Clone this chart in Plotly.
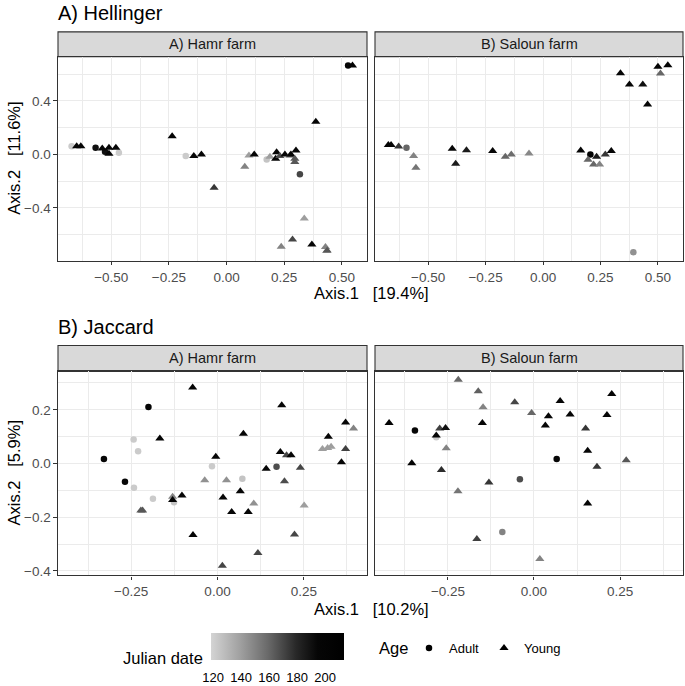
import plotly.graph_objects as go

# ---------------- data ----------------
# A) Hellinger, Hamr farm
hel_hamr_x = [-0.672, -0.650, -0.632, -0.568, -0.539, -0.510, -0.527, -0.510, -0.480, -0.467,
              -0.236, -0.177, -0.142, -0.109, -0.054, 0.079, 0.097, 0.120, 0.174, 0.188,
              0.213, 0.217, 0.231, 0.253, 0.275, 0.279, 0.301, 0.296, 0.296, 0.318,
              0.387, 0.337, 0.286, 0.237, 0.370, 0.429, 0.434, 0.436, 0.527, 0.546]
hel_hamr_y = [0.062, 0.062, 0.062, 0.050, 0.045, 0.050, 0.020, 0.005, 0.050, 0.012,
              0.137, -0.012, -0.012, 0.000, -0.249, -0.092, -0.007, 0.000, -0.037, -0.017,
              -0.032, 0.017, -0.012, 0.000, -0.007, 0.000, 0.030, -0.032, -0.057, -0.149,
              0.244, -0.480, -0.636, -0.690, -0.673, -0.693, -0.723, -0.718, 0.666, 0.666]
hel_hamr_age = ["Adult", "Young", "Young", "Adult", "Young", "Young", "Adult", "Young", "Young", "Adult",
                "Young", "Adult", "Young", "Young", "Young", "Young", "Young", "Young", "Adult", "Young",
                "Young", "Young", "Young", "Young", "Young", "Young", "Young", "Young", "Young", "Adult",
                "Young", "Young", "Young", "Young", "Young", "Young", "Young", "Young", "Adult", "Young"]
hel_hamr_date = [122, 195, 195, 190, 195, 195, 190, 195, 195, 122,
                 200, 122, 195, 195, 175, 150, 140, 195, 125, 140,
                 195, 195, 168, 195, 165, 195, 195, 165, 165, 170,
                 200, 140, 170, 150, 195, 150, 140, 165, 195, 200]

# A) Hellinger, Saloun farm
hel_saloun_x = [-0.673, -0.661, -0.628, -0.594, -0.563, -0.553, -0.395, -0.380, -0.333, -0.219,
                -0.164, -0.138, -0.061, 0.164, 0.206, 0.233, 0.196, 0.220, 0.246, 0.271,
                0.297, 0.337, 0.376, 0.434, 0.455, 0.500, 0.511, 0.543, 0.393]
hel_saloun_y = [0.070, 0.070, 0.060, 0.050, -0.012, -0.100, 0.042, -0.070, 0.032, 0.025,
                -0.017, 0.000, 0.007, 0.030, 0.000, -0.017, -0.040, -0.075, -0.075, 0.000,
                0.025, 0.608, 0.524, 0.524, 0.374, 0.656, 0.606, 0.668, -0.731]
hel_saloun_age = ["Young", "Young", "Young", "Adult", "Young", "Young", "Young", "Young", "Young", "Young",
                  "Young", "Young", "Young", "Young", "Adult", "Young", "Young", "Young", "Young", "Young",
                  "Young", "Young", "Young", "Young", "Young", "Young", "Young", "Young", "Adult"]
hel_saloun_date = [200, 200, 175, 160, 150, 155, 195, 185, 185, 195,
                   160, 158, 148, 195, 200, 185, 160, 160, 150, 175,
                   195, 195, 195, 190, 195, 200, 160, 200, 145]

# B) Jaccard, Hamr farm
jac_hamr_x = [-0.072, -0.200, 0.186, -0.243, -0.230, -0.167, -0.329, 0.075, 0.371, 0.394,
              0.321, 0.304, 0.319, 0.329, 0.371, 0.182, 0.200, 0.213, -0.005, 0.359,
              -0.016, -0.268, 0.141, 0.171, 0.240, -0.242, -0.037, 0.026, 0.072, 0.194,
              0.066, -0.187, -0.130, -0.130, -0.126, -0.103, 0.016, 0.105, -0.222, -0.217,
              0.041, 0.089, 0.251, -0.071, 0.223, 0.117, 0.014]
jac_hamr_y = [0.283, 0.210, 0.217, 0.089, 0.046, 0.093, 0.017, 0.111, 0.153, 0.130,
              0.100, 0.054, 0.058, 0.062, 0.054, 0.043, 0.031, 0.031, 0.025, 0.005,
              -0.010, -0.068, -0.020, -0.012, -0.016, -0.090, -0.062, -0.062, -0.057, -0.066,
              -0.103, -0.131, -0.124, -0.136, -0.144, -0.119, -0.127, -0.149, -0.175, -0.175,
              -0.181, -0.181, -0.156, -0.266, -0.264, -0.333, -0.381]
jac_hamr_age = ["Young", "Adult", "Young", "Adult", "Adult", "Young", "Adult", "Young", "Young", "Young",
                "Young", "Young", "Young", "Young", "Young", "Young", "Young", "Young", "Young", "Young",
                "Adult", "Adult", "Young", "Adult", "Young", "Adult", "Young", "Young", "Adult", "Young",
                "Young", "Adult", "Young", "Young", "Adult", "Young", "Young", "Young", "Young", "Young",
                "Young", "Young", "Young", "Young", "Young", "Young", "Young"]
jac_hamr_date = [200, 200, 195, 122, 122, 200, 195, 195, 195, 150,
                 195, 140, 140, 140, 172, 195, 170, 195, 195, 195,
                 122, 195, 195, 168, 170, 122, 145, 145, 125, 168,
                 195, 122, 150, 195, 125, 195, 195, 145, 165, 165,
                 195, 195, 140, 200, 170, 170, 170]

# B) Jaccard, Saloun farm
jac_saloun_x = [-0.421, -0.346, -0.220, -0.162, -0.148, -0.274, -0.257, -0.284, -0.284, -0.150,
                -0.255, -0.355, -0.269, -0.056, -0.007, 0.076, 0.042, 0.033, 0.105, 0.212,
                0.226, 0.150, 0.156, 0.066, 0.183, 0.268, -0.131, -0.041, -0.221, 0.156,
                -0.092, -0.166, 0.017]
jac_saloun_y = [0.151, 0.123, 0.312, 0.269, 0.209, 0.130, 0.132, 0.098, 0.104, 0.151,
                0.057, 0.001, -0.024, 0.228, 0.188, 0.233, 0.176, 0.141, 0.182, 0.181,
                0.259, 0.130, 0.047, 0.017, -0.012, 0.012, -0.071, -0.059, -0.103, -0.149,
                -0.255, -0.281, -0.356]
jac_saloun_age = ["Young", "Adult", "Young", "Young", "Young", "Young", "Young", "Adult", "Young", "Young",
                  "Young", "Young", "Young", "Young", "Young", "Young", "Young", "Young", "Young", "Young",
                  "Young", "Young", "Young", "Adult", "Young", "Young", "Young", "Adult", "Young", "Young",
                  "Adult", "Young", "Young"]
jac_saloun_date = [200, 195, 160, 162, 150, 172, 190, 122, 195, 195,
                   150, 200, 178, 170, 160, 195, 195, 195, 195, 195,
                   200, 175, 195, 195, 175, 165, 175, 168, 155, 195,
                   150, 172, 150]

section_titles = ["A) Hellinger", "B) Jaccard"]
farm_labels = ["A) Hamr farm", "B) Saloun farm"]
x_titles = ["Axis.1\u00a0\u00a0\u00a0[19.4%]", "Axis.1\u00a0\u00a0\u00a0[10.2%]"]
y_titles = ["Axis.2\u00a0\u00a0\u00a0[11.6%]", "Axis.2\u00a0\u00a0\u00a0[5.9%]"]
colorbar_ticks = [120, 140, 160, 180, 200]
age_levels = ["Adult", "Young"]

# ---------------- styling ----------------
FONT = "Liberation Sans, Arial, Helvetica, sans-serif"
W, H = 685, 686
symbols = {"Adult": "circle", "Young": "triangle-up"}
sizes = {"Adult": 6.5, "Young": 8}
CMIN, CMAX = 118.5, 213.5

def px_x(p):
    return p / W

def px_y(p):
    return 1 - p / H

panels = [
    (hel_hamr_x, hel_hamr_y, hel_hamr_age, hel_hamr_date),
    (hel_saloun_x, hel_saloun_y, hel_saloun_age, hel_saloun_date),
    (jac_hamr_x, jac_hamr_y, jac_hamr_age, jac_hamr_date),
    (jac_saloun_x, jac_saloun_y, jac_saloun_age, jac_saloun_date),
]

col_dom = [(px_x(58), px_x(367)), (px_x(375), px_x(683))]
row_px = [(57, 262), (373, 578)]
row_dom = [(px_y(b), px_y(t)) for t, b in row_px]
strip_px = [(32, 57), (347, 373)]

row_xrange = [[-0.731, 0.609], [-0.462, 0.433]]
row_yrange = [[-0.796, 0.731], [-0.417, 0.343]]
row_xd = [(0.25, 0.125), (0.25, 0.125)]
row_yd = [(0.4, 0.2), (0.2, 0.1)]

fig = go.Figure()

for i, (xs, ys, ages, dates) in enumerate(panels):
    r, c = divmod(i, 2)
    ax = "" if i == 0 else str(i + 1)
    for age in age_levels:
        idx = [k for k, a in enumerate(ages) if a == age]
        fig.add_trace(go.Scatter(
            x=[xs[k] for k in idx], y=[ys[k] for k in idx],
            mode="markers", showlegend=False,
            xaxis="x" + ax, yaxis="y" + ax,
            marker=dict(symbol=symbols[age], size=sizes[age],
                        color=[dates[k] for k in idx], coloraxis="coloraxis",
                        line=dict(width=0)),
            hoverinfo="skip",
        ))
    grid = "#EBEBEB"
    fig.layout["xaxis" + ax] = dict(
        domain=col_dom[c], range=row_xrange[r], anchor="y" + ax,
        tickmode="linear", tick0=0, dtick=row_xd[r][0], tickformat=".2f",
        showgrid=True, gridcolor=grid, gridwidth=1.1, zeroline=False,
        minor=dict(tick0=0, dtick=row_xd[r][1], showgrid=True, gridcolor=grid, gridwidth=0.55),
        ticks="outside", ticklen=3.5, tickwidth=1.1, tickcolor="#333333",
        showline=True, linecolor="#333333", linewidth=1.1, mirror=True,
        tickfont=dict(family=FONT, size=13.5, color="#4D4D4D"),
    )
    fig.layout["yaxis" + ax] = dict(
        domain=row_dom[r], range=row_yrange[r], anchor="x" + ax,
        tickmode="linear", tick0=0, dtick=row_yd[r][0], tickformat=".1f",
        showgrid=True, gridcolor=grid, gridwidth=1.1, zeroline=False,
        minor=dict(tick0=0, dtick=row_yd[r][1], showgrid=True, gridcolor=grid, gridwidth=0.55),
        ticks="outside" if c == 0 else "", ticklen=3.5, tickwidth=1.1, tickcolor="#333333",
        showticklabels=(c == 0),
        showline=True, linecolor="#333333", linewidth=1.1, mirror=True,
        tickfont=dict(family=FONT, size=13.5, color="#4D4D4D"),
    )

shapes = []
annotations = []
for r in range(2):
    st, sb = strip_px[r]
    for c in range(2):
        shapes.append(dict(type="rect", xref="paper", yref="paper",
                           x0=col_dom[c][0], x1=col_dom[c][1], y0=px_y(sb), y1=px_y(st),
                           fillcolor="#D9D9D9", line=dict(color="#333333", width=1.1), layer="below"))
        annotations.append(dict(text=farm_labels[c], xref="paper", yref="paper",
                                x=(col_dom[c][0] + col_dom[c][1]) / 2, y=px_y((st + sb) / 2),
                                xanchor="center", yanchor="middle", showarrow=False,
                                font=dict(family=FONT, size=14.5, color="#1A1A1A")))
    annotations.append(dict(text=section_titles[r], xref="paper", yref="paper",
                            x=px_x(56), y=px_y([13, 328][r]), xanchor="left", yanchor="middle",
                            showarrow=False, font=dict(family=FONT, size=20, color="black")))
    annotations.append(dict(text=x_titles[r], xref="paper", yref="paper",
                            x=px_x(371), y=px_y([294, 612][r]), xanchor="center", yanchor="middle",
                            showarrow=False, font=dict(family=FONT, size=16.5, color="black")))
    annotations.append(dict(text=y_titles[r], xref="paper", yref="paper",
                            x=px_x(14), y=(row_dom[r][0] + row_dom[r][1]) / 2, textangle=-90,
                            xanchor="center", yanchor="middle",
                            showarrow=False, font=dict(family=FONT, size=16.5, color="black")))

# legend titles
annotations.append(dict(text="Julian date", xref="paper", yref="paper",
                        x=px_x(205), y=px_y(661), xanchor="right", yanchor="middle",
                        showarrow=False, font=dict(family=FONT, size=16.5, color="black")))
annotations.append(dict(text="Age", xref="paper", yref="paper",
                        x=px_x(377), y=px_y(651), xanchor="left", yanchor="middle",
                        showarrow=False, font=dict(family=FONT, size=16.5, color="black")))

# colour bar geometry (pixels) and the white tick marks that ggplot draws inside the bar
CB_LEFT, CB_LEN, CB_TOP, CB_THICK = 211, 133, 636, 27
for v in colorbar_ticks:
    xp = CB_LEFT + (v - CMIN) / (CMAX - CMIN) * CB_LEN
    for y0, y1 in [(CB_TOP, CB_TOP + CB_THICK / 5), (CB_TOP + CB_THICK * 4 / 5, CB_TOP + CB_THICK)]:
        shapes.append(dict(type="line", xref="paper", yref="paper",
                           x0=px_x(xp), x1=px_x(xp), y0=px_y(y0), y1=px_y(y1),
                           line=dict(color="white", width=1), layer="above"))

for age in age_levels:
    fig.add_trace(go.Scatter(x=[None], y=[None], mode="markers", name=age,
                             marker=dict(symbol=symbols[age], size=sizes[age], color="black"),
                             showlegend=True, xaxis="x", yaxis="y"))

fig.update_layout(
    width=W, height=H,
    margin=dict(l=0, r=0, t=0, b=0),
    paper_bgcolor="white", plot_bgcolor="white",
    font=dict(family=FONT, color="black"),
    shapes=shapes, annotations=annotations,
    coloraxis=dict(
        cmin=CMIN, cmax=CMAX,
        colorscale=[[0.0, "rgb(212,212,212)"], [0.22, "rgb(160,160,160)"], [0.43, "rgb(105,105,105)"],
                    [0.64, "rgb(40,40,40)"], [0.80, "rgb(6,6,6)"], [1.0, "rgb(0,0,0)"]],
        colorbar=dict(orientation="h", x=px_x(CB_LEFT + CB_LEN / 2), xanchor="center",
                      y=px_y(CB_TOP), yanchor="top",
                      len=CB_LEN, lenmode="pixels", thickness=CB_THICK, thicknessmode="pixels",
                      outlinewidth=0, tickmode="array", tickvals=colorbar_ticks,
                      ticks="outside", ticklen=7, tickcolor="white", tickwidth=1,
                      tickfont=dict(family=FONT, size=13, color="black"),
                      xpad=0, ypad=0),
    ),
    legend=dict(orientation="h", x=px_x(409), xanchor="left", y=px_y(651), yanchor="middle",
                font=dict(family=FONT, size=13, color="black"), bgcolor="rgba(0,0,0,0)",
                itemsizing="trace"),
)

fig.write_html("out.html", config={"displayModeBar": False},
               post_script="document.body.style.margin='0px';document.body.style.overflow='hidden';")
